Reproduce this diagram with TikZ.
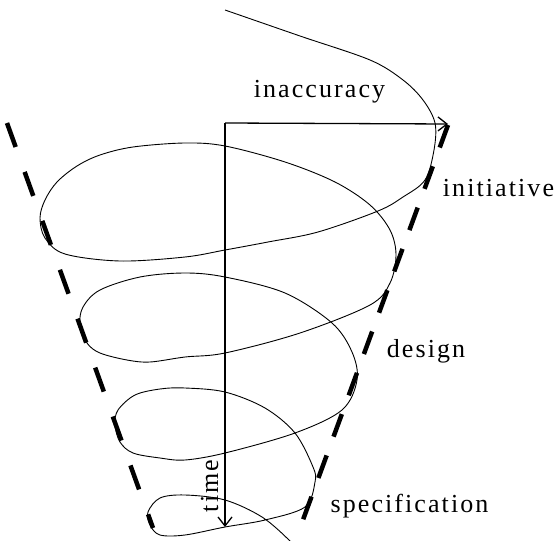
\documentclass[tikz,border=0pt]{standalone}
\usepackage{fontspec}
\setmainfont{Liberation Serif}
\usepackage{tikz}
\usetikzlibrary{arrows.meta}
\tikzset{
  spiral/.style={line width=0.9bp, black},
  cone/.style={line width=4.5bp, dash pattern=on 25.5bp off 26.5bp},
  coneR/.style={line width=4.5bp, dash pattern=on 24bp off 20bp},
  axis/.style={line width=1.3bp, -{Straight Barb[length=9bp,width=14bp]}},
  tlabel/.style={font=\fontsize{26bp}{30bp}\selectfont\addfontfeature{LetterSpace=8},
                 inner sep=0pt, anchor=base},
}

\begin{document}
\begin{tikzpicture}[x=1bp,y=-1bp,line cap=butt]
  \useasboundingbox (0,0) rectangle (555,541);
  % ====== cone ======
  \coordinate (coneTL) at (7,123);   \coordinate (coneBL) at (153,528);
  \coordinate (coneTR) at (448,125); \coordinate (coneBR) at (300,528);
  \draw[cone]  (coneTL) -- (coneBL);
  \draw[coneR] (coneTR) -- (coneBR);
  % ====== spiral ======
  \begin{scope}
    \clip (0,0) rectangle (555,541);
    \draw[spiral] plot[smooth,tension=0.55] coordinates {
      (225,10) (300,36) (370,60) (403,80) (423,100) (435,123) (434,150)
      (425,180) (403,197) (378,211) (318,232) (268,242) (225,250) (185,257)
      (120,261) (65,254) (45,238) (40,218) (45,200) (57,182) (77,166)
      (100,155) (133,147) (185,143) (225,146) (285,162) (335,182) (370,205)
      (390,230) (396,255) (390,283) (370,305) (300,333) (225,353) (185,357)
      (150,362) (127,360) (100,353) (87,343) (80,325) (83,307) (100,290)
      (140,277) (185,273) (225,277) (285,293) (332,323) (352,352) (357,380)
      (342,410) (295,433) (225,453) (185,460) (160,458) (133,453) (120,442)
      (115,425) (118,410) (135,395) (160,389) (185,388) (225,392) (265,408)
      (295,433) (313,467) (315,482) (305,507) (265,520) (225,527) (185,535)
      (160,535) (150,525) (148,512) (160,498) (185,495) (225,500) (262,517)
      (290,541) (298,552)};
  \end{scope}
  % ====== axes ======
  \coordinate (origin) at (225,123);
  \coordinate (inaccEnd) at (448,124);
  \coordinate (timeEnd) at (225,527);
  \draw[axis] (origin) -- (inaccEnd);
  \draw[axis] (origin) -- (timeEnd);
  % ====== labels ======
  \node[tlabel] (inaccuracy) at (319.5,98) {inaccuracy};
  \node[tlabel] (initiative) at (498.5,197) {initiative};
  \node[tlabel] (design) at (426,357) {design};
  \node[tlabel] (specification) at (409.5,512) {specification};
  \node[tlabel,rotate=90] (time) at (218,486) {time};
\end{tikzpicture}
\end{document}
